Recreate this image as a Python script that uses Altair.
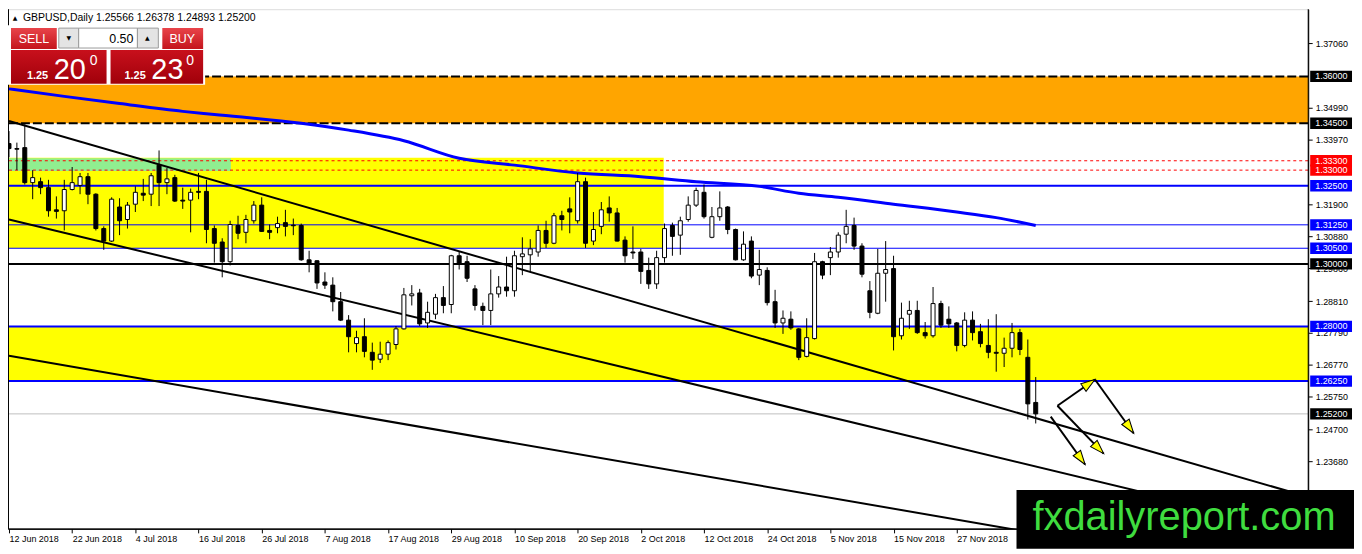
import json
import math

import altair as alt
import numpy as np
import pandas as pd

# GBPUSD daily candles, 12 Jun 2018 .. 11 Dec 2018
opens = [1.3385, 1.3369, 1.3372, 1.3260, 1.3263, 1.3244, 1.3173, 1.3170, 1.3238, 1.3251,
         1.3279, 1.3223, 1.3113, 1.3073, 1.3182, 1.3142, 1.3191, 1.3226, 1.3223, 1.3316,
         1.3260, 1.3276, 1.3204, 1.3204, 1.3232, 1.3232, 1.3113, 1.3070, 1.3007, 1.3123,
         1.3101, 1.3138, 1.3188, 1.3107, 1.3116, 1.3132, 1.3124, 1.3123, 1.3013, 1.3010,
         1.2942, 1.2932, 1.2879, 1.2820, 1.2745, 1.2767, 1.2717, 1.2695, 1.2711, 1.2742,
         1.2792, 1.2898, 1.2907, 1.2811, 1.2839, 1.2892, 1.2870, 1.3026, 1.3007, 1.2920,
         1.2864, 1.2851, 1.2904, 1.2926, 1.2914, 1.3023, 1.3029, 1.3038, 1.3107, 1.3066,
         1.3154, 1.3176, 1.3138, 1.3263, 1.3073, 1.3120, 1.3179, 1.3163, 1.3076, 1.3038,
         1.3038, 1.2979, 1.2936, 1.3020, 1.3123, 1.3092, 1.3142, 1.3188, 1.3229, 1.3085,
         1.3151, 1.3182, 1.3110, 1.3013, 1.3073, 1.2964, 1.2979, 1.2879, 1.2811, 1.2823,
         1.2792, 1.2704, 1.2761, 1.3007, 1.3020, 1.3038, 1.3095, 1.3123, 1.3057, 1.2914,
         1.2842, 1.2970, 1.2985, 1.2770, 1.2839, 1.2851, 1.2780, 1.2770, 1.2873, 1.2823,
         1.2811, 1.2739, 1.2820, 1.2783, 1.2739, 1.2717, 1.2714, 1.2730, 1.2780, 1.2701,
         1.25566]
highs = [1.3425, 1.3388, 1.3447, 1.3300, 1.3276, 1.3269, 1.3216, 1.3269, 1.3310, 1.3291,
         1.3291, 1.3226, 1.3120, 1.3213, 1.3210, 1.3198, 1.3248, 1.3272, 1.3291, 1.3363,
         1.3307, 1.3285, 1.3244, 1.3241, 1.3291, 1.3269, 1.3123, 1.3082, 1.3138, 1.3154,
         1.3157, 1.3201, 1.3213, 1.3126, 1.3151, 1.3173, 1.3145, 1.3129, 1.3042, 1.3012,
         1.2973, 1.2957, 1.2910, 1.2836, 1.2786, 1.2826, 1.2748, 1.2751, 1.2755, 1.2801,
         1.2923, 1.2932, 1.2920, 1.2879, 1.2904, 1.2929, 1.3029, 1.3038, 1.3026, 1.2932,
         1.2876, 1.2982, 1.2961, 1.3023, 1.3042, 1.3085, 1.3079, 1.3123, 1.3138, 1.3163,
         1.3170, 1.3213, 1.3291, 1.3276, 1.3166, 1.3198, 1.3216, 1.3179, 1.3088, 1.3120,
         1.3048, 1.3020, 1.3042, 1.3129, 1.3132, 1.3151, 1.3216, 1.3244, 1.3254, 1.3182,
         1.3232, 1.3185, 1.3113, 1.3104, 1.3088, 1.3045, 1.2989, 1.2917, 1.2851, 1.2848,
         1.2795, 1.2826, 1.3035, 1.3010, 1.3054, 1.3101, 1.3173, 1.3148, 1.3066, 1.2945,
         1.3048, 1.3073, 1.3026, 1.2876, 1.2882, 1.2882, 1.2814, 1.2926, 1.2882, 1.2864,
         1.2814, 1.2845, 1.2848, 1.2808, 1.2823, 1.2839, 1.2764, 1.2811, 1.2792, 1.2758,
         1.26378]
lows = [1.3341, 1.3300, 1.3254, 1.3207, 1.3223, 1.3151, 1.3145, 1.3107, 1.3235, 1.3223,
        1.3191, 1.3107, 1.3045, 1.3070, 1.3092, 1.3113, 1.3166, 1.3201, 1.3185, 1.3185,
        1.3223, 1.3198, 1.3176, 1.3101, 1.3207, 1.3066, 1.3004, 1.2957, 1.2995, 1.3079,
        1.3066, 1.3129, 1.3102, 1.3079, 1.3098, 1.3088, 1.3092, 1.3010, 1.2973, 1.2920,
        1.2920, 1.2848, 1.2817, 1.2717, 1.2717, 1.2701, 1.2661, 1.2683, 1.2692, 1.2726,
        1.2790, 1.2867, 1.2801, 1.2795, 1.2823, 1.2842, 1.2842, 1.2982, 1.2942, 1.2851,
        1.2804, 1.2804, 1.2892, 1.2895, 1.2895, 1.2964, 1.2973, 1.3023, 1.3051, 1.3063,
        1.3107, 1.3098, 1.3129, 1.3051, 1.3060, 1.3095, 1.3135, 1.3072, 1.3004, 1.3016,
        1.2936, 1.2920, 1.2920, 1.3004, 1.3026, 1.3029, 1.3135, 1.3182, 1.3145, 1.3082,
        1.3138, 1.3095, 1.3011, 1.3010, 1.2954, 1.2932, 1.2867, 1.2795, 1.2776, 1.2789,
        1.2692, 1.2701, 1.2758, 1.2951, 1.2964, 1.3020, 1.3066, 1.3045, 1.2957, 1.2826,
        1.2839, 1.2879, 1.2723, 1.2758, 1.2792, 1.2776, 1.2761, 1.2764, 1.2795, 1.2795,
        1.2720, 1.2733, 1.2755, 1.2733, 1.2698, 1.2655, 1.2670, 1.2701, 1.2708, 1.2502,
        1.24893]
closes = [1.3369, 1.3367, 1.3260, 1.3276, 1.3244, 1.3170, 1.3168, 1.3238, 1.3260, 1.3279,
          1.3223, 1.3113, 1.3073, 1.3207, 1.3138, 1.3188, 1.3229, 1.3220, 1.3282, 1.3260,
          1.3272, 1.3201, 1.3201, 1.3229, 1.3229, 1.3110, 1.3066, 1.3007, 1.3126, 1.3098,
          1.3142, 1.3188, 1.3104, 1.3101, 1.3129, 1.3120, 1.3122, 1.3013, 1.3001, 1.2939,
          1.2932, 1.2879, 1.2820, 1.2767, 1.2764, 1.2720, 1.2692, 1.2711, 1.2748, 1.2792,
          1.2901, 1.2904, 1.2808, 1.2845, 1.2892, 1.2867, 1.3026, 1.3001, 1.2954, 1.2867,
          1.2851, 1.2904, 1.2926, 1.2914, 1.3026, 1.3032, 1.3048, 1.3107, 1.3066, 1.3154,
          1.3142, 1.3166, 1.3263, 1.3066, 1.3110, 1.3173, 1.3163, 1.3073, 1.3026, 1.3035,
          1.2976, 1.2936, 1.3020, 1.3113, 1.3088, 1.3138, 1.3188, 1.3235, 1.3151, 1.3151,
          1.3179, 1.3110, 1.3013, 1.3063, 1.2961, 1.2982, 1.2876, 1.2811, 1.2826, 1.2795,
          1.2701, 1.2764, 1.3007, 1.2964, 1.3038, 1.3092, 1.3120, 1.3057, 1.2967, 1.2845,
          1.2970, 1.2982, 1.2767, 1.2826, 1.2851, 1.2780, 1.2770, 1.2873, 1.2804, 1.2808,
          1.2739, 1.2820, 1.2780, 1.2745, 1.2717, 1.2714, 1.2730, 1.2780, 1.2726, 1.2552,
          1.25200]

# one date label every 8 bars
date_labels = ['12 Jun 2018', '22 Jun 2018', '4 Jul 2018', '16 Jul 2018', '26 Jul 2018',
               '7 Aug 2018', '17 Aug 2018', '29 Aug 2018', '10 Sep 2018', '20 Sep 2018',
               '2 Oct 2018', '12 Oct 2018', '24 Oct 2018', '5 Nov 2018', '15 Nov 2018',
               '27 Nov 2018']
price_ticks = [1.37060, 1.34990, 1.33970, 1.31900, 1.30880, 1.29860, 1.28810,
               1.27790, 1.26770, 1.25750, 1.24700, 1.23680, 1.22660]

# moving average (blue curve)
ma_bar = [0, 7, 14, 22, 26, 37, 43, 50, 57, 64, 72, 80, 87, 95, 100, 105, 112, 120, 125, 130]
ma_price = [1.3560, 1.3536, 1.3513, 1.3488, 1.3478, 1.3450, 1.3428, 1.3394, 1.3338, 1.3316,
            1.3291, 1.3279, 1.3263, 1.3248, 1.3226, 1.3213, 1.3191, 1.3166, 1.3148, 1.3123]

# channel lines (bar, price) -> (bar, price)
trend_bar1 = [0, 0, 0]
trend_price1 = [1.3457, 1.3142, 1.2706]
trend_bar2 = [164, 164, 130]
trend_price2 = [1.2258, 1.2145, 1.2138]

# zones
orange_zone = [1.3450, 1.3600]
upper_yellow_zone = [1.3050, 1.3340]
upper_yellow_end = 82.9
green_zone = [1.3297, 1.3338]
green_end = 28.1
lower_yellow_zone = [1.2625, 1.2800]

# horizontal levels
dashed_levels = [1.3600, 1.3450]
red_levels = [1.3330, 1.3300]
blue_thick_levels = [1.3250, 1.2800, 1.2625]
blue_thin_levels = [1.3125, 1.3050]
black_levels = [1.3000]
bid_levels = [1.2520]

# hand-drawn scenario arrows
arrow_bar1 = [132.75, 137.5, 132.75, 131.9]
arrow_price1 = [1.2546, 1.2630, 1.2546, 1.2511]
arrow_bar2 = [137.5, 142.4, 138.6, 136.25]
arrow_price2 = [1.2630, 1.2458, 1.2393, 1.2358]

header = 'GBPUSD,Daily 1.25566 1.26378 1.24893 1.25200'
watermark = 'fxdailyreport.com'

# ---------------------------------------------------------------------------
W, H = 1306, 522
PAD_RIGHT, PAD_BOTTOM = 46, 20
X_DOM = [-0.125, 164.5]
Y_DOM = [1.2152, 1.3815]
FONT = 'Liberation Sans, Arial'
AXIS_FS = 9
BLUE = '#0000ff'

xs = alt.Scale(domain=X_DOM, nice=False, zero=False, padding=0)
ys = alt.Scale(domain=Y_DOM, nice=False, zero=False, padding=0)

x_axis = alt.Axis(values=list(range(0, 8 * len(date_labels), 8)),
                  labelExpr=json.dumps(date_labels) + '[round(datum.value / 8)]',
                  title=None, grid=False, domainColor='black', tickColor='black', tickSize=4,
                  labelAlign='left', labelBaseline='top', labelPadding=2, labelFont=FONT,
                  labelFontSize=AXIS_FS, labelColor='black', labelOverlap=False,
                  labelFlush=False)
y_axis = alt.Axis(orient='right', values=price_ticks, format='.5f', title=None, grid=False,
                  domainColor='black', tickColor='black', tickSize=4, labelPadding=3,
                  labelFont=FONT, labelFontSize=AXIS_FS, labelColor='black',
                  labelOverlap=False, labelFlush=False)


def qx(field):
    return alt.X(field, type='quantitative', scale=xs, axis=x_axis)


def qy(field):
    return alt.Y(field, type='quantitative', scale=ys, axis=y_axis)


one = pd.DataFrame({'k': [0]})

bars = pd.DataFrame({'i': np.arange(len(opens)), 'o': opens, 'h': highs, 'l': lows, 'c': closes})
bars['top'] = bars[['o', 'c']].max(axis=1)
bars['bot'] = bars[['o', 'c']].min(axis=1)
bars['fill'] = np.where(bars['c'] >= bars['o'], 'white', 'black')

# zones
zones = pd.DataFrame({
    'x1': [X_DOM[0]] * 4,
    'x2': [X_DOM[1], upper_yellow_end, green_end, X_DOM[1]],
    'lo': [orange_zone[0], upper_yellow_zone[0], green_zone[0], lower_yellow_zone[0]],
    'hi': [orange_zone[1], upper_yellow_zone[1], green_zone[1], lower_yellow_zone[1]],
    'fill': ['#ffa500', '#ffff00', '#90ee90', '#ffff00'],
})
zone_layer = alt.Chart(zones).mark_rect().encode(
    x=qx('x1'), x2='x2', y=qy('lo'), y2='hi', fill=alt.Fill('fill:N', scale=None))


def hline(levels, **mk):
    return alt.Chart(pd.DataFrame({'p': levels})).mark_rule(**mk).encode(y=qy('p'))


level_layers = [
    hline(dashed_levels, color='black', strokeWidth=2, strokeDash=[9, 3]),
    hline(red_levels, color='#ff0000', strokeWidth=1, strokeDash=[3, 3]),
    hline(blue_thin_levels, color=BLUE, strokeWidth=1),
    hline(blue_thick_levels, color=BLUE, strokeWidth=2),
    hline(black_levels, color='black', strokeWidth=2),
    hline(bid_levels, color='#c0c0c0', strokeWidth=1),
]

ma = pd.DataFrame({'i': ma_bar, 'p': ma_price})
ma_layer = alt.Chart(ma).mark_line(color=BLUE, strokeWidth=3, interpolate='monotone').encode(
    x=qx('i'), y=qy('p'))

trends = pd.DataFrame({'i1': trend_bar1, 'p1': trend_price1, 'i2': trend_bar2, 'p2': trend_price2})
trend_layer = alt.Chart(trends).mark_rule(color='black', strokeWidth=2, clip=True).encode(
    x=qx('i1'), x2='i2', y=qy('p1'), y2='p2')

wicks = alt.Chart(bars).mark_rule(color='black', strokeWidth=1).encode(
    x=qx('i'), y=qy('l'), y2='h:Q')
bodies = alt.Chart(bars).mark_bar(size=4, stroke='black', strokeWidth=1).encode(
    x=qx('i'), y=qy('bot'), y2='top:Q', fill=alt.Fill('fill:N', scale=None))

# arrows: shafts + heads (head tip sits on the end point)
sx = W / (X_DOM[1] - X_DOM[0])
sy = H / (Y_DOM[1] - Y_DOM[0])
HEAD = 'M0,-1L0.65,1L-0.65,1Z'
HEAD_SIZE = 200
r = math.sqrt(HEAD_SIZE) / 2
heads = []
for a1, b1, a2, b2 in zip(arrow_bar1, arrow_price1, arrow_bar2, arrow_price2):
    dx = (a2 - a1) * sx
    dy = -(b2 - b1) * sy
    ln = math.hypot(dx, dy)
    ux, uy = dx / ln, dy / ln
    ang = math.degrees(math.atan2(dx, -dy)) % 360
    heads.append({'i': a2 - r * ux / sx, 'p': b2 + r * uy / sy, 'ang': ang})
arrows = pd.DataFrame({'i1': arrow_bar1, 'p1': arrow_price1, 'i2': arrow_bar2, 'p2': arrow_price2})
shaft_layer = alt.Chart(arrows).mark_rule(color='black', strokeWidth=2).encode(
    x=qx('i1'), x2='i2', y=qy('p1'), y2='p2')
head_layer = alt.Chart(pd.DataFrame(heads)).mark_point(
    shape=HEAD, size=HEAD_SIZE, filled=True, fill='#ffff00', stroke='black',
    strokeWidth=1, opacity=1).encode(
    x=qx('i'), y=qy('p'), angle=alt.Angle('ang:Q', scale=None))

# price boxes on the right axis
box_levels = dashed_levels + red_levels + blue_thick_levels + blue_thin_levels + black_levels + bid_levels
box_fill = (['#000000'] * len(dashed_levels) + ['#ff0000'] * len(red_levels)
            + [BLUE] * (len(blue_thick_levels) + len(blue_thin_levels))
            + ['#000000'] * (len(black_levels) + len(bid_levels)))
boxes = pd.DataFrame({'p': box_levels, 'bg': box_fill, 'txt': [f'{v:.5f}' for v in box_levels]})
box_layer = alt.Chart(boxes).mark_point(
    shape='M-1,-0.27L1,-0.27L1,0.27L-1,0.27Z', size=42 * 42, filled=True, opacity=1,
    strokeWidth=0).encode(x=alt.value(W + 23), y=qy('p'), color=alt.Color('bg:N', scale=None))
box_text = alt.Chart(boxes).mark_text(
    align='left', baseline='middle', font=FONT, fontSize=AXIS_FS, color='white').encode(
    x=alt.value(W + 7), y=qy('p'), text='txt:N')

frame = [
    alt.Chart(one).mark_rule(color='black', strokeWidth=1).encode(
        x=alt.value(0.5), y=alt.value(0), y2=alt.value(H)),
    alt.Chart(one).mark_rule(color='black', strokeWidth=1).encode(
        x=alt.value(W), y=alt.value(0), y2=alt.value(H)),
    alt.Chart(one).mark_rule(color='black', strokeWidth=1).encode(
        x=alt.value(0), x2=alt.value(W), y=alt.value(H)),
]


# trade panel in the top-left corner
def px_rect(x0, y0, x1, y1, fill, stroke=None):
    mk = {'fill': fill}
    if stroke:
        mk.update(stroke=stroke, strokeWidth=1)
    return alt.Chart(one).mark_rect(**mk).encode(
        x=alt.value(x0), x2=alt.value(x1), y=alt.value(y0), y2=alt.value(y1))


def px_text(x, y, s, size, color='black', align='left', weight='normal', font=FONT,
            baseline='alphabetic'):
    return alt.Chart(one).mark_text(
        text=s, align=align, baseline=baseline, fontSize=size, color=color,
        fontWeight=weight, font=font).encode(x=alt.value(x), y=alt.value(y))


red_top = alt.LinearGradient(gradient='linear', x1=0, x2=0, y1=0, y2=1,
                             stops=[alt.GradientStop(color='#e8444a', offset=0),
                                    alt.GradientStop(color='#c4141c', offset=1)])
red_box = alt.LinearGradient(gradient='linear', x1=0, x2=0, y1=0, y2=1,
                             stops=[alt.GradientStop(color='#c8101c', offset=0),
                                    alt.GradientStop(color='#a0000a', offset=1)])

panel = [
    px_rect(0, 16, 198, 76, 'white'),
    px_rect(3, 19, 49, 40, red_top),
    px_rect(51, 19, 71, 39, '#e4e4e4', '#9a9a9a'),
    px_rect(71, 19, 130, 39, 'white', '#9a9a9a'),
    px_rect(130, 19, 151, 39, '#e4e4e4', '#9a9a9a'),
    px_rect(155, 19, 196, 40, red_top),
    px_rect(3, 41, 99, 75, red_box),
    px_rect(103, 41, 196, 75, red_box),
    px_text(26, 30, 'SELL', 12.5, 'white', 'center', baseline='middle'),
    px_text(175, 30, 'BUY', 12.5, 'white', 'center', baseline='middle'),
    px_text(61, 29, '▼', 6, 'black', 'center', font='DejaVu Sans', baseline='middle'),
    px_text(140, 29, '▲', 6, 'black', 'center', font='DejaVu Sans', baseline='middle'),
    px_text(126, 30, '0.50', 12.5, 'black', 'right', baseline='middle'),
    px_text(19, 70, '1.25', 11, 'white', weight='bold'),
    px_text(46, 70, '20', 29, 'white'),
    px_text(82, 56, '0', 14, 'white'),
    px_text(117, 70, '1.25', 11, 'white', weight='bold'),
    px_text(144, 70, '23', 29, 'white'),
    px_text(179, 56, '0', 14, 'white'),
    px_text(7, 9, '▲', 6, 'black', 'center', font='DejaVu Sans', baseline='middle'),
    px_text(15, 9, header, 10.5, 'black', baseline='middle'),
]

stamp = [
    px_rect(W - 293, H - 39, W + PAD_RIGHT, H + PAD_BOTTOM, 'black'),
    px_text(W - 277, H + 1, watermark, 40, '#3fdc3f'),
]

chart = alt.layer(
    zone_layer, *level_layers, ma_layer, trend_layer, wicks, bodies,
    shaft_layer, head_layer, box_layer, box_text, *frame, *panel, *stamp
).properties(
    width=W, height=H,
    autosize=alt.AutoSizeParams(type='none'),
    padding={'left': 0, 'top': 0, 'right': PAD_RIGHT, 'bottom': PAD_BOTTOM},
).configure_view(stroke=None).configure(background='white')

chart.save('out.html', embed_options={'renderer': 'svg', 'actions': False})
